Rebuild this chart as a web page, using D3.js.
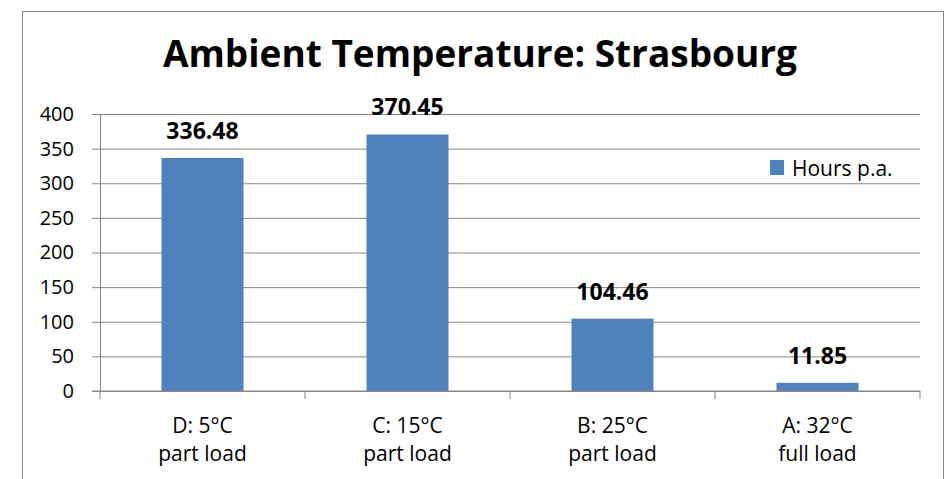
<!DOCTYPE html>
<html>
<head>
<meta charset="utf-8">
<script src="https://cdn.jsdelivr.net/npm/d3@7"></script>
<style>
  body { margin: 0; background: #fff; }
  text { font-family: "Open Sans", Lato, sans-serif; fill: #000; }
</style>
</head>
<body>
<div id="chart"></div>
<script>
const categories = ["D: 5°C|part load", "C: 15°C|part load", "B: 25°C|part load", "A: 32°C|full load"];
const hours = [336.48, 370.45, 104.46, 11.85];
const yTicks = [0, 50, 100, 150, 200, 250, 300, 350, 400];
const title = "Ambient Temperature: Strasbourg";
const seriesName = "Hours p.a.";

const width = 951;
const height = 479;
const margin = { top: 114, right: 31, bottom: 88, left: 100 };
const barColor = "#4F81BD";
const gridColor = "#868686";

const svg = d3.select("#chart")
    .append("svg")
    .attr("width", width)
    .attr("height", height);

// chart border (runs off the bottom of the picture)
svg.append("rect")
    .attr("x", 22.5)
    .attr("y", 11.5)
    .attr("width", 921)
    .attr("height", 480)
    .attr("fill", "none")
    .attr("stroke", gridColor)
    .attr("stroke-width", 1);

const xScale = d3.scaleBand()
    .domain(categories)
    .range([margin.left, width - margin.right])
    .paddingInner(0.6)
    .paddingOuter(0.3);

const yScale = d3.scaleLinear()
    .domain([0, 400])
    .range([height - margin.bottom, margin.top]);

// y axis with gridlines
const yAxis = d3.axisLeft(yScale)
    .tickValues(yTicks)
    .tickSize(-(width - margin.right - margin.left))
    .tickSizeOuter(0)
    .tickPadding(26);

const gy = svg.append("g")
    .attr("transform", `translate(${margin.left},0)`)
    .call(yAxis);

gy.selectAll(".tick line")
    .attr("x1", -8)
    .attr("stroke", gridColor);
gy.select(".domain").attr("stroke", gridColor);
gy.selectAll(".tick text")
    .style("font-size", "20px")
    .style("font-family", "'Open Sans', sans-serif")
    .attr("fill", "#000");

// bars
svg.selectAll(".bar")
    .data(hours)
    .join("rect")
    .attr("class", "bar")
    .attr("x", (d, i) => xScale(categories[i]))
    .attr("y", d => yScale(d))
    .attr("width", xScale.bandwidth())
    .attr("height", d => yScale(0) - yScale(d))
    .attr("fill", barColor);

// data labels
svg.selectAll(".label")
    .data(hours)
    .join("text")
    .attr("class", "label")
    .attr("x", (d, i) => xScale(categories[i]) + xScale.bandwidth() / 2)
    .attr("y", d => yScale(d) - 19)
    .attr("text-anchor", "middle")
    .style("font-size", "23px")
    .style("font-weight", "bold")
    .text(d => d.toFixed(2));

// x axis: line + ticks between categories
const x0 = margin.left;
const x1 = width - margin.right;
const y0 = yScale(0);
const step = (x1 - x0) / categories.length;
const gx = svg.append("g");
gx.append("line")
    .attr("x1", x0 - 8).attr("x2", x1)
    .attr("y1", y0).attr("y2", y0)
    .attr("stroke", gridColor);
d3.range(categories.length + 1).forEach(i => {
    gx.append("line")
        .attr("x1", x0 + i * step).attr("x2", x0 + i * step)
        .attr("y1", y0).attr("y2", y0 + 8)
        .attr("stroke", gridColor);
});

const catLabels = gx.selectAll(".cat")
    .data(categories)
    .join("text")
    .attr("class", "cat")
    .attr("text-anchor", "middle")
    .attr("x", d => xScale(d) + xScale.bandwidth() / 2)
    .attr("y", y0 + 42)
    .style("font-size", "21px");
catLabels.selectAll("tspan")
    .data(d => d.split("|"))
    .join("tspan")
    .attr("x", function () { return d3.select(this.parentNode).attr("x"); })
    .attr("dy", (d, i) => i === 0 ? 0 : 28)
    .text(d => d);

// title
svg.append("text")
    .attr("x", 480)
    .attr("y", 67)
    .attr("text-anchor", "middle")
    .style("font-size", "37px")
    .style("font-weight", "bold")
    .text(title);

// legend
svg.append("rect")
    .attr("x", 770)
    .attr("y", 160)
    .attr("width", 14)
    .attr("height", 15)
    .attr("fill", barColor);
svg.append("text")
    .attr("x", 792)
    .attr("y", 176)
    .style("font-size", "21px")
    .text(seriesName);
</script>
</body>
</html>
